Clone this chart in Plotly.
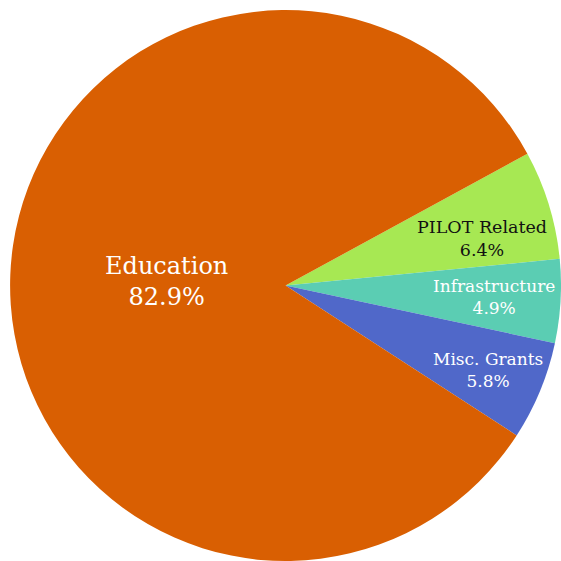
import math
import plotly.graph_objects as go

labels = ["PILOT Related", "Infrastructure", "Misc. Grants", "Education"]
values = [6.4, 4.9, 5.8, 82.9]
colors = ["#A7E853", "#5BCDB3", "#5068C9", "#D95F02"]
text_colors = ["#111111", "#FFFFFF", "#FFFFFF", "#FFFFFF"]

# label styling (placement within each slice, font sizes)
label_radius = [0.734, 0.758, 0.796, 0.434]
label_angle_nudge = [-3.5, 0.0, 0.0, 0.0]
label_size = [17.5, 17, 17, 24]

W = H = 561
dom_x = [0.018, 1.0]
dom_y = [0.0, 0.982]
rotation = 61.4

fig = go.Figure(go.Pie(
    labels=labels,
    values=values,
    sort=False,
    direction="clockwise",
    rotation=rotation,
    marker=dict(colors=colors, line=dict(width=0)),
    textinfo="none",
    domain=dict(x=dom_x, y=dom_y),
    showlegend=False,
    hoverinfo="label+percent",
))

# place labels at the angular middle of each slice
cx = (dom_x[0] + dom_x[1]) / 2 * W
cy = (1 - (dom_y[0] + dom_y[1]) / 2) * H
R = min((dom_x[1] - dom_x[0]) * W, (dom_y[1] - dom_y[0]) * H) / 2
total = sum(values)
start = 90 - rotation  # math angle (deg, ccw from +x) of first slice start
acc = 0.0
for i, (lab, v) in enumerate(zip(labels, values)):
    mid = start - (acc + v / 2) / total * 360 + label_angle_nudge[i]
    acc += v
    a = math.radians(mid)
    px = cx + label_radius[i] * R * math.cos(a)
    py = cy - label_radius[i] * R * math.sin(a)
    pct = v / total * 100
    fig.add_annotation(
        x=px / W, y=1 - py / H, xref="paper", yref="paper",
        text=f"{lab}<br>{pct:.1f}%", showarrow=False,
        xanchor="center", yanchor="middle",
        font=dict(family="DejaVu Serif", size=label_size[i], color=text_colors[i]),
    )

fig.update_layout(
    width=W, height=H,
    margin=dict(l=0, r=0, t=0, b=0),
    paper_bgcolor="white",
    plot_bgcolor="white",
)

fig.write_html("out.html")
